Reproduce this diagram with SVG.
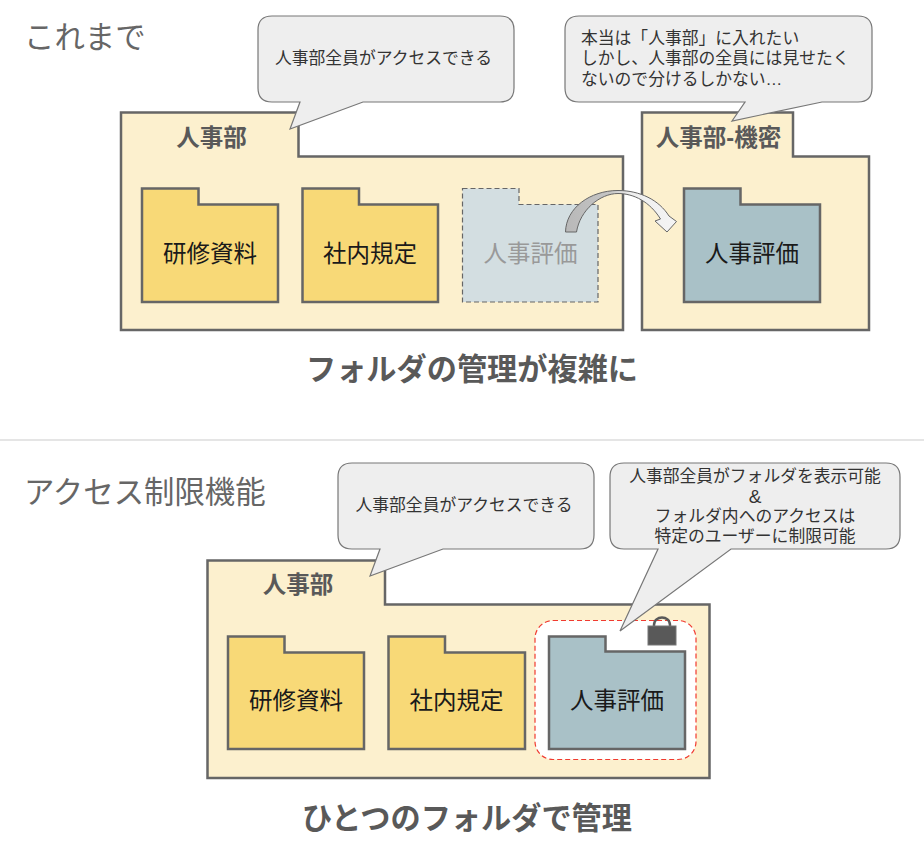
<svg xmlns="http://www.w3.org/2000/svg" width="924" height="848" viewBox="0 0 924 848">
<style>
text{font-family:"Liberation Sans","Noto Sans CJK JP",sans-serif;text-anchor:middle}
.h{font-size:30.400px;fill:#666;text-anchor:start}
.big{font-size:30.200px;font-weight:700;fill:#595959}
.dept{font-size:23.500px;font-weight:700;fill:#595959}
.fl{font-size:23.500px;fill:#1a1a1a}
.bt{font-size:16.800px;fill:#333}
.bl{fill:#fcf0ce;stroke:#666;stroke-width:2.500}
.y{fill:#f8d977;stroke:#666;stroke-width:2.500}
.g{fill:#a9c1c7;stroke:#666;stroke-width:2.500}
.b{fill:#eee;stroke:#777;stroke-width:1.200}
</style>
<rect width="924" height="848" fill="#fff"/>
<g id="titles">
<text class="h" x="24" y="48">これまで</text>
<text class="h" x="24" y="503">アクセス制限機能</text>
<text class="big" x="472" y="380">フォルダの管理が複雑に</text>
<text class="big" x="467" y="829">ひとつのフォルダで管理</text>
<line x1="0" y1="440" x2="924" y2="440" stroke="#ddd" stroke-width="1.500"/>
</g>
<g id="dept-top">
<path class="bl" d="M121 112.500H298.500V156.500H623V330H121Z"/>
<text class="dept" x="211.500" y="146">人事部</text>
</g>
<g id="dept-secret">
<path class="bl" d="M642 112.500H793V156.500H869V330H642Z"/>
<text class="dept" x="718.500" y="146">人事部-機密</text>
</g>
<g id="f1"><path class="y" d="M142 188.500H198.500V204.500H278V302H142Z"/><text class="fl" x="210" y="262">研修資料</text></g>
<g id="f2"><path class="y" d="M302.500 188.500H359V204.500H438V302H302.500Z"/><text class="fl" x="370" y="262">社内規定</text></g>
<g id="f3"><path d="M462.500 188.500H519V204.500H598V302H462.500Z" fill="#d3dee1" stroke="#666" stroke-width="1.200" stroke-dasharray="5 3"/><text class="fl" x="530.500" y="262" style="fill:#999">人事評価</text></g>
<g id="f4"><path class="g" d="M684 188.500H740.500V204.500H820V302H684Z"/><text class="fl" x="752" y="262">人事評価</text></g>
<g id="connectors">
<defs><linearGradient id="ar" gradientUnits="userSpaceOnUse" x1="565" y1="0" x2="675" y2="0"><stop offset="0" stop-color="#b8b8b8"/><stop offset="0.4" stop-color="#c4c4c4"/><stop offset="0.6" stop-color="#eee"/><stop offset="1" stop-color="#f4f4f4"/></linearGradient></defs>
<path d="M565.500 232C566 208 590 190.500 618 190.500C640 190.500 659 200 669 216L676.500 221.500L667 232L655 221L660.500 219C650 202 634 193.500 618 193.500C600 193.500 580 210 576.500 232Z" fill="url(#ar)" stroke="#666" stroke-width="1"/>
</g>
<g id="bubble1">
<path class="b" d="M272 16H500Q514 16 514 30V88Q514 102 500 102H363L290 129L300 102H272Q258 102 258 88V30Q258 16 272 16Z"/>
<text class="bt" x="383.500" y="64">人事部全員がアクセスできる</text>
</g>
<g id="bubble2">
<path class="b" d="M579 16H858Q872 16 872 30V88Q872 102 858 102H822L732 121L745 102H579Q565 102 565 88V30Q565 16 579 16Z"/>
<text class="bt" x="581" y="44" style="text-anchor:start">本当は「人事部」に入れたい</text>
<text class="bt" x="581" y="64" style="text-anchor:start">しかし、人事部の全員には見せたく</text>
<text class="bt" x="581" y="85" style="text-anchor:start">ないので分けるしかない…</text>
</g>
<g id="dept-bottom">
<path class="bl" d="M207.500 560.500H385V604.500H709.500V778H207.500Z"/>
<text class="dept" x="298" y="593">人事部</text>
</g>
<g id="restriction">
<rect x="535" y="620.500" width="161" height="139" rx="18" fill="#fff" stroke="#f03a30" stroke-width="1.200" stroke-dasharray="5 3"/>
</g>
<g id="f5"><path class="y" d="M228 636.500H284.500V652.500H364V749H228Z"/><text class="fl" x="296" y="709">研修資料</text></g>
<g id="f6"><path class="y" d="M388.500 636.500H445V652.500H525V749H388.500Z"/><text class="fl" x="456.500" y="709">社内規定</text></g>
<g id="f7"><path class="g" d="M549 636.500H605.500V651.500H685V749H549Z"/><text class="fl" x="617" y="709">人事評価</text></g>
<g id="lock">
<path d="M654 627V625C654 615 670 615 670 625V627" fill="none" stroke="#595959" stroke-width="2.500"/>
<rect x="648" y="626" width="28" height="19" fill="#595959" stroke="#777" stroke-width="1"/>
</g>
<g id="bubble3">
<path class="b" d="M352 463H580Q594 463 594 477V535Q594 549 580 549H443L370 576L380 549H352Q338 549 338 535V477Q338 463 352 463Z"/>
<text class="bt" x="464" y="511">人事部全員がアクセスできる</text>
</g>
<g id="bubble4">
<path class="b" d="M624 463H886Q900 463 900 477V535Q900 549 886 549H731L620 631L658 549H624Q610 549 610 535V477Q610 463 624 463Z"/>
<text class="bt" x="755" y="482">人事部全員がフォルダを表示可能</text>
<text class="bt" x="755" y="503" style="font-size:19px">&amp;</text>
<text class="bt" x="755" y="522">フォルダ内へのアクセスは</text>
<text class="bt" x="755" y="542">特定のユーザーに制限可能</text>
</g>
</svg>
